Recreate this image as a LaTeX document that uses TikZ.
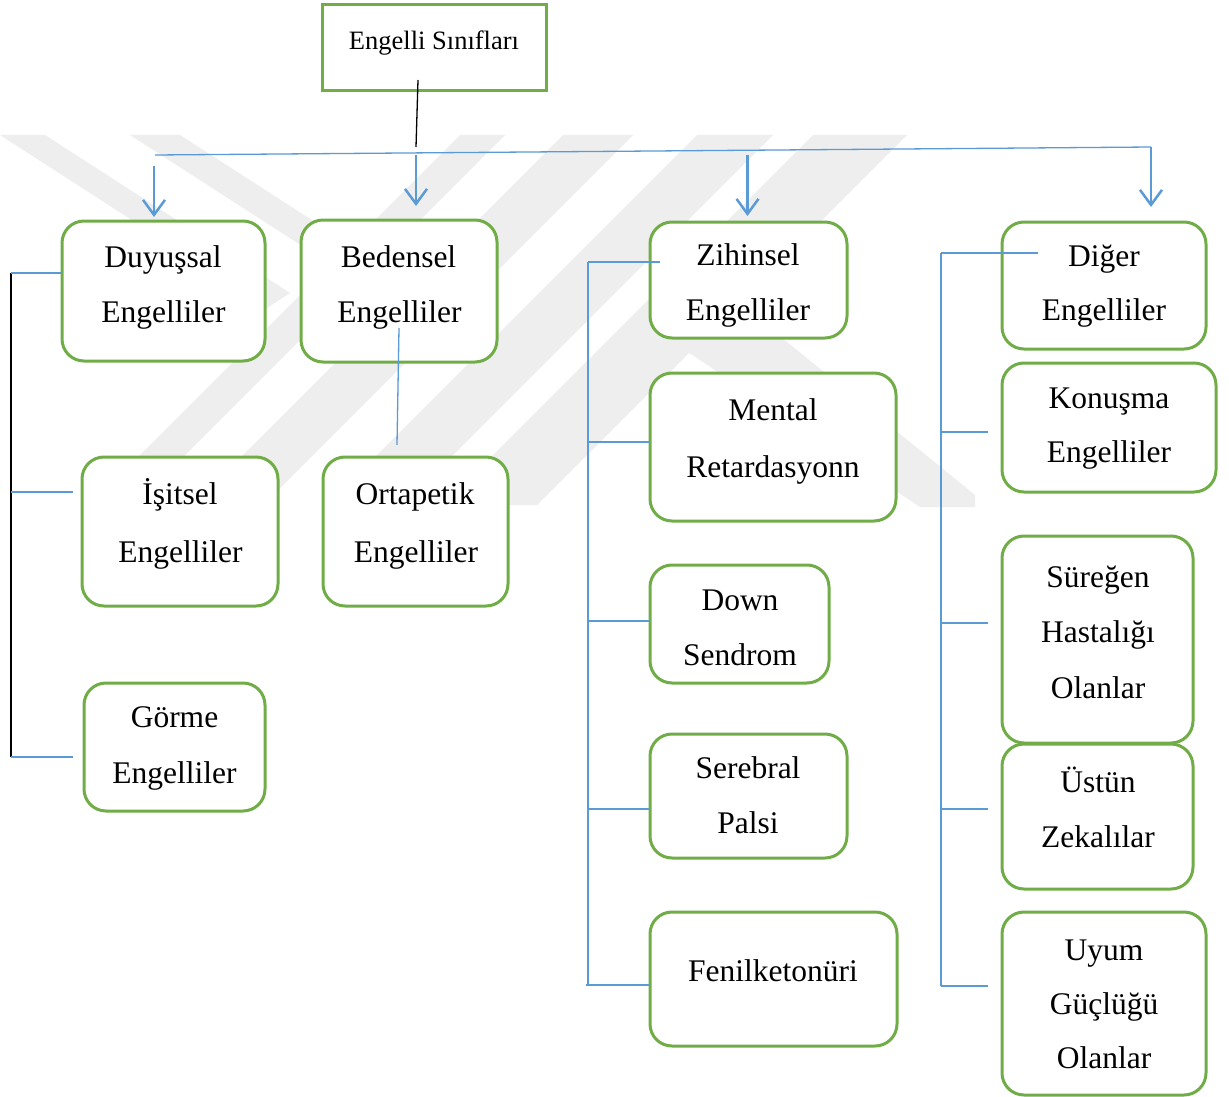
\documentclass[tikz,border=0pt]{standalone}
\usepackage{fontspec}
\setmainfont{Liberation Serif}
\usetikzlibrary{arrows.meta,calc}
\definecolor{grn}{RGB}{112,173,71}
\definecolor{blu}{RGB}{91,155,213}
\definecolor{wm}{RGB}{238,238,238}
\tikzset{
  box/.style={draw=grn, line width=3pt, rounded corners=22pt, fill=white, inner sep=0pt, outer sep=0pt},
  titlebox/.style={draw=grn, line width=3pt, fill=white, inner sep=0pt, outer sep=0pt},
  lbl/.style={anchor=base, inner sep=0pt, outer sep=0pt, font=\fontsize{31.5}{37}\selectfont},
  tlbl/.style={anchor=base, inner sep=0pt, outer sep=0pt, font=\fontsize{26.5}{32}\selectfont},
  conn/.style={draw=blu, line width=1.3pt},
  blk/.style={draw=black, line width=1.3pt},
  arr/.style={draw=blu, line width=2.5pt, -{Straight Barb[length=15pt,width=22pt]}}
}
\newcommand\boxnode[6][box]{\node[#1, minimum width={(#5-#3)*1pt}, minimum height={(#6-#4)*1pt}] (#2) at ({(#3+#5)/2},{(#4+#6)/2}) {};}
\begin{document}
\begin{tikzpicture}[x=1pt,y=-1pt]
\useasboundingbox (0,0) rectangle (1229,1097);
\fill[white] (0,0) rectangle (1229,1097);
% watermark
\fill[wm] (0,135) -- (45,135) -- (290,293) -- (230,332) -- (185,332) -- (245,293) -- cycle;
\fill[wm] (130,135) -- (180,135) -- (425,293) -- (375,293) -- cycle;
\fill[wm] (460,135) -- (505,135) -- (135,505) -- (90,505) -- cycle;
\fill[wm] (563,135) -- (633,135) -- (263,505) -- (193,505) -- cycle;
\fill[wm] (697,135) -- (773,135) -- (403,505) -- (327,505) -- cycle;
\fill[wm] (813,135) -- (907,135) -- (537,505) -- (443,505) -- cycle;
\fill[wm] (640,320) -- (760,320) -- (975,495) -- (975,507) -- (920,507) -- cycle;
% boxes
\boxnode[titlebox]{title}{322}{5}{546}{91}
\boxnode{duy}{62}{221}{265}{361}
\boxnode{bed}{301}{220}{497}{362}
\boxnode{isi}{82}{457}{278}{606}
\boxnode{ort}{323}{457}{508}{606}
\boxnode{gor}{84}{683}{265}{811}
\boxnode{zih}{650}{222}{847}{338}
\boxnode{men}{650}{373}{896}{521}
\boxnode{dow}{650}{565}{829}{683}
\boxnode{ser}{650}{734}{847}{858}
\boxnode{fen}{650}{912}{897}{1046}
\boxnode{dig}{1002}{222}{1206}{349}
\boxnode{kon}{1002}{363}{1216}{492}
\boxnode{sur}{1002}{536}{1193}{743}
\boxnode{ust}{1002}{744}{1193}{889}
\boxnode{uyu}{1002}{912}{1206}{1095}
% texts
\node[tlbl] (title1) at (434,50) {Engelli Sınıfları};
\node[lbl] (duy1) at (163,267) {Duyuşsal};
\node[lbl] (duy2) at (163.5,322) {Engelliler};
\node[lbl] (bed1) at (398.5,267) {Bedensel};
\node[lbl] (bed2) at (399.5,322) {Engelliler};
\node[lbl] (isi1) at (180,504) {İşitsel};
\node[lbl] (isi2) at (180.5,562) {Engelliler};
\node[lbl] (ort1) at (415,504) {Ortapetik};
\node[lbl] (ort2) at (416,562) {Engelliler};
\node[lbl] (gor1) at (174.5,727) {Görme};
\node[lbl] (gor2) at (174.5,783) {Engelliler};
\node[lbl] (zih1) at (748,265) {Zihinsel};
\node[lbl] (zih2) at (748,320) {Engelliler};
\node[lbl] (men1) at (773,420) {Mental};
\node[lbl] (men2) at (773,477) {Retardasyonn};
\node[lbl] (dow1) at (740,610) {Down};
\node[lbl] (dow2) at (740,665) {Sendrom};
\node[lbl] (ser1) at (748,778) {Serebral};
\node[lbl] (ser2) at (748,833) {Palsi};
\node[lbl] (fen1) at (773,981) {Fenilketonüri};
\node[lbl] (dig1) at (1104,266) {Diğer};
\node[lbl] (dig2) at (1104,320) {Engelliler};
\node[lbl] (kon1) at (1109,408) {Konuşma};
\node[lbl] (kon2) at (1109,462) {Engelliler};
\node[lbl] (sur1) at (1098,587) {Süreğen};
\node[lbl] (sur2) at (1098,642) {Hastalığı};
\node[lbl] (sur3) at (1098,698) {Olanlar};
\node[lbl] (ust1) at (1098,792) {Üstün};
\node[lbl] (ust2) at (1098,847) {Zekalılar};
\node[lbl] (uyu1) at (1104,960) {Uyum};
\node[lbl] (uyu2) at (1104,1014) {Güçlüğü};
\node[lbl] (uyu3) at (1104,1068) {Olanlar};
% coordinates
\coordinate (t1) at (418,80);
\coordinate (t2) at (416,147);
\coordinate (busL) at (155,155);
\coordinate (busR) at (1151,147);
\coordinate (a1) at (154,166);
\coordinate (a2) at (416,155);
\coordinate (a3) at (747.5,155);
\coordinate (b1) at (399,328);
\coordinate (b2) at (397,445);
\coordinate (L1) at (11,273);
\coordinate (L2) at (11,492);
\coordinate (L3) at (11,757);
\coordinate (M1) at (588,262);
\coordinate (M2) at (588,442);
\coordinate (M3) at (588,621);
\coordinate (M4) at (588,809);
\coordinate (M5) at (588,985);
\coordinate (R1) at (941,253);
\coordinate (R2) at (941,432);
\coordinate (R3) at (941,623);
\coordinate (R4) at (941,809);
\coordinate (R5) at (941,986);
% connectors
\draw[blk] (t1) -- (t2);
\draw[conn] (busL) -- (busR);
\draw[arr, shorten >=15pt] (busR) -- (busR |- dig.north);
\draw[arr, shorten >=4pt] (a1) -- (a1 |- duy.north);
\draw[arr, shorten >=14pt] (a2) -- (a2 |- bed.north);
\draw[arr, shorten >=6pt] (a3) -- (a3 |- zih.north);
\draw[conn] (b1) -- (b2);
\draw[blk] (L1) -- (L3);
\draw[conn] (L1) -- (L1 -| duy.west);
\draw[conn, shorten >=9pt] (L2) -- (L2 -| isi.west);
\draw[conn, shorten >=11pt] (L3) -- (L3 -| gor.west);
\draw[conn] (M1) -- (M5);
\draw[conn, shorten >=-10pt] (M1) -- (M1 -| zih.west);
\draw[conn] (M2) -- (M2 -| men.west);
\draw[conn] (M3) -- (M3 -| dow.west);
\draw[conn] (M4) -- (M4 -| ser.west);
\draw[conn] ([xshift=-2pt]M5) -- (M5 -| fen.west);
\draw[conn] (R1) -- (R5);
\draw[conn, shorten >=-36pt] (R1) -- (R1 -| dig.west);
\draw[conn, shorten >=14pt] (R2) -- (R2 -| kon.west);
\draw[conn, shorten >=14pt] (R3) -- (R3 -| sur.west);
\draw[conn, shorten >=14pt] (R4) -- (R4 -| ust.west);
\draw[conn, shorten >=14pt] (R5) -- (R5 -| uyu.west);
\end{tikzpicture}
\end{document}
